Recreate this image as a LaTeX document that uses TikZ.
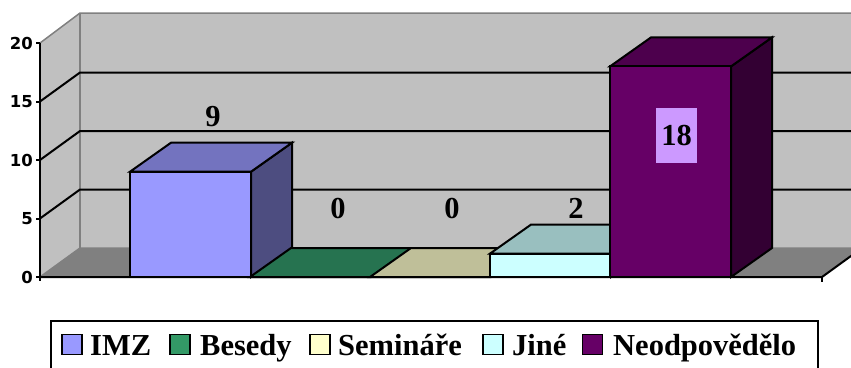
\documentclass[tikz,border=0pt]{standalone}
\usepackage{fontspec}
\setmainfont{Liberation Serif}
\newfontfamily\axisfont{DejaVu Sans}
\definecolor{wallgray}{HTML}{C0C0C0}
\definecolor{floorgray}{HTML}{808080}
\definecolor{imzfront}{HTML}{9999FF}
\definecolor{imztop}{HTML}{7373BF}
\definecolor{imzside}{HTML}{4D4D80}
\definecolor{besfront}{HTML}{339966}
\definecolor{bestop}{HTML}{267350}
\definecolor{besside}{HTML}{1A4D33}
\definecolor{semfront}{HTML}{FFFFCC}
\definecolor{semtop}{HTML}{BFBF99}
\definecolor{semside}{HTML}{808066}
\definecolor{jinfront}{HTML}{CCFFFF}
\definecolor{jintop}{HTML}{99BFBF}
\definecolor{jinside}{HTML}{668080}
\definecolor{neofront}{HTML}{660066}
\definecolor{neotop}{HTML}{4D004D}
\definecolor{neoside}{HTML}{330033}
\definecolor{lilac}{HTML}{CC99FF}
\begin{document}
\begin{tikzpicture}[x=1pt,y=-1pt,
    wall/.style={draw=floorgray,line width=1.5pt},
    gridline/.style={line width=2pt},
    barline/.style={line width=2pt,line join=miter},
    ticklabel/.style={anchor=east,inner sep=0pt,font=\axisfont\bfseries\fontsize{16.5}{16.5}\selectfont},
    vallabel/.style={inner sep=0pt,font=\bfseries\fontsize{30.5}{30.5}\selectfont},
    keybox/.style={draw,line width=1.5pt,minimum size=20pt,inner sep=0pt},
    keytext/.style={anchor=base west,inner sep=0pt,font=\bfseries\fontsize{30.5}{30.5}\selectfont}]
  \useasboundingbox (0,0) rectangle (851,367);
  \clip (0,0) rectangle (851,367);
  % walls and floor
  \fill[wallgray] (80,13) rectangle (862,248);
  \fill[wallgray] (40,43) -- (80,13) -- (80,248) -- (40,277) -- cycle;
  \fill[floorgray] (40,277) -- (822,277) -- (862,248) -- (80,248) -- cycle;
  \draw[wall] (40,43) -- (80,13) -- (862,13);
  \draw[wall] (80,13) -- (80,248);
  \draw[wall] (40,277) -- (80,248) -- (862,248);
  \foreach \v in {5,10,15}
    \draw[gridline] (40,277-11.7*\v) -- ++(40,-29) -- (862,248-11.7*\v);
  % axis
  \draw[line width=2pt] (40,43) -- (40,281);
  \draw[line width=2pt] (40,277) -- (822,277) -- (862,248);
  \draw[line width=2pt] (822,277) -- (822,282);
  \foreach \v in {0,5,10,15,20}{
    \draw[line width=2pt] (36,277-11.7*\v) -- (40,277-11.7*\v);
    \node[ticklabel] (tick\v) at (33,277-11.7*\v) {\v};
  }
  % bars
  \foreach \xl/\val/\fr/\tp/\sd in {130/9/imzfront/imztop/imzside,
      250/0/besfront/bestop/besside, 370/0/semfront/semtop/semside,
      490/2/jinfront/jintop/jinside, 610/18/neofront/neotop/neoside}{
    \pgfmathsetmacro\yt{277-11.7*\val}
    \pgfmathsetmacro\xr{\xl+121}
    \draw[barline,fill=\sd] (\xr,277) -- ++(41,-29) -- (\xr+41,\yt-29) -- (\xr,\yt) -- cycle;
    \draw[barline,fill=\tp] (\xl,\yt) -- (\xr,\yt) -- (\xr+41,\yt-29) -- (\xl+41,\yt-29) -- cycle;
    \draw[barline,fill=\fr] (\xl,277) rectangle (\xr,\yt);
  }
  % values
  \node[vallabel] (valimz) at (213,116.5) {9};
  \node[vallabel] (valbes) at (338,208.5) {0};
  \node[vallabel] (valsem) at (452,208.5) {0};
  \node[vallabel] (valjin) at (576,208.5) {2};
  \node[vallabel,fill=lilac,minimum width=41pt,minimum height=55pt] (valneo) at (676.5,135.5) {18};
  % legend
  \draw[line width=1.5pt] (51,321) rectangle (818,400);
  \node[keybox,fill=imzfront] (keyimz) at (72,344.5) {};
  \node[keytext] (txtimz) at (90,355) {IMZ};
  \node[keybox,fill=besfront] (keybes) at (180,344.5) {};
  \node[keytext] (txtbes) at (200,355) {Besedy};
  \node[keybox,fill=semfront] (keysem) at (320,344.5) {};
  \node[keytext] (txtsem) at (338,355) {Semináře};
  \node[keybox,fill=jinfront] (keyjin) at (493,344.5) {};
  \node[keytext] (txtjin) at (512,355) {Jiné};
  \node[keybox,fill=neofront] (keyneo) at (592.5,344.5) {};
  \node[keytext] (txtneo) at (613,355) {Neodpovědělo};
\end{tikzpicture}
\end{document}
